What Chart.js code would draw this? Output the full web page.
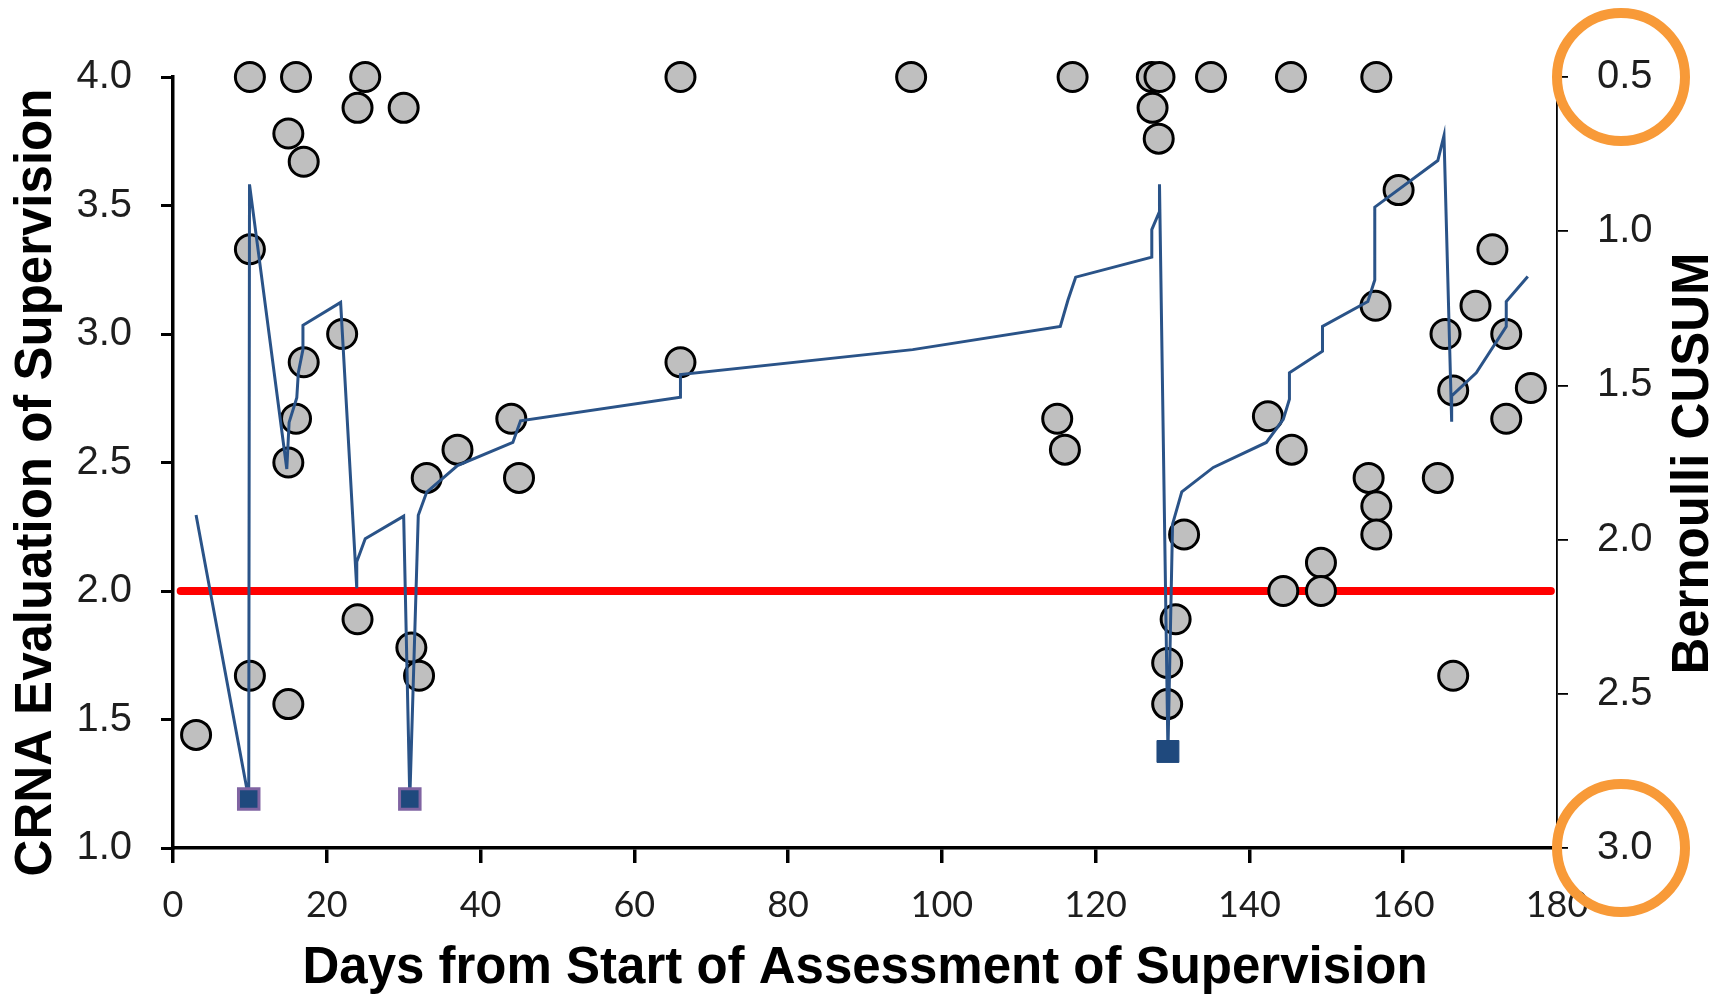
<!DOCTYPE html>
<html>
<head>
<meta charset="utf-8">
<script src="https://cdn.jsdelivr.net/npm/chart.js@4.4.1/dist/chart.umd.min.js"></script>
<style>
  html, body { margin: 0; padding: 0; background: #ffffff; }
  #wrap { width: 1731px; height: 997px; }
</style>
</head>
<body>
<div id="wrap"><canvas id="chart" width="1731" height="997"></canvas></div>
<script>
// Individual CRNA supervision ratings: day of observation and score (1-4)
const ratingDays = [3, 10, 10, 10, 15, 15, 15, 16, 16, 17, 17, 22, 24, 24, 25, 30, 31, 32, 33, 37, 44, 45,
  66, 66, 96, 115, 116, 117, 127.3, 128.3, 127.4, 128.2, 129.3, 129.3, 130.4, 131.5, 135, 142.4, 144.4,
  145.4, 145.5, 149.3, 149.3, 155.5, 156.5, 156.4, 156.5, 156.5, 159.4, 164.5, 165.5, 166.5, 166.5,
  169.4, 171.6, 173.4, 173.4, 176.6];
const ratingValues = [1.44, 4.0, 3.33, 1.67, 3.78, 2.5, 1.56, 4.0, 2.67, 3.67, 2.89, 3.0, 3.88, 1.89, 4.0,
  3.88, 1.78, 1.67, 2.44, 2.55, 2.67, 2.44, 4.0, 2.89, 4.0, 2.67, 2.55, 4.0, 4.0, 4.0, 3.88, 3.76, 1.72,
  1.56, 1.89, 2.22, 4.0, 2.68, 2.0, 4.0, 2.55, 2.11, 2.0, 2.44, 4.0, 3.11, 2.33, 2.22, 3.56, 2.44, 3.0,
  2.78, 1.67, 3.11, 3.33, 3.0, 2.67, 2.79];

// Bernoulli CUSUM trace (right axis, reversed)
const cusumDays = [3, 9.85, 9.95, 14.8, 15.1, 16.1, 16.3, 16.9, 16.9, 21.8, 23.9, 23.9, 25.0, 30.0, 30.8,
  31.9, 33.0, 37.0, 44.2, 45.2, 66.0, 66.0, 96.2, 115.4, 116.4, 117.4, 127.3, 127.3, 128.3, 128.3, 129.4,
  130.0, 131.2, 135.3, 142.2, 144.4, 145.2, 145.2, 149.5, 149.5, 155.4, 156.3, 156.3, 164.5, 165.3, 166.3,
  166.3, 169.5, 173.4, 173.4, 176.2];
const cusumValues = [1.92, 2.841, 0.848, 1.771, 1.62, 1.54, 1.459, 1.384, 1.305, 1.231, 2.158, 2.072,
  1.997, 1.924, 2.841, 1.921, 1.846, 1.76, 1.685, 1.615, 1.538, 1.465, 1.384, 1.309, 1.223, 1.149, 1.084,
  0.995, 0.936, 0.848, 2.687, 1.95, 1.845, 1.766, 1.685, 1.61, 1.545, 1.459, 1.389, 1.309, 1.228, 1.158,
  0.922, 0.771, 0.690, 1.618, 1.534, 1.459, 1.309, 1.228, 1.147];
// Positions in the CUSUM trace where a signal was raised
const signalIndex = [1, 14, 30];
const outlinedSignals = [1, 14];

// Acceptable-performance threshold on the rating scale
const thresholdDays = [1, 179.2];
const thresholdLevel = 2.0;

// Axis ticks and titles
const dayTicks = [0, 20, 40, 60, 80, 100, 120, 140, 160, 180];
const ratingTicks = [1.0, 1.5, 2.0, 2.5, 3.0, 3.5, 4.0];
const cusumTicks = [0.5, 1.0, 1.5, 2.0, 2.5, 3.0];
const circledCusumTicks = [0.5, 3.0];
const xTitle = 'Days from Start of Assessment of Supervision';
const leftTitle = 'CRNA Evaluation of Supervision';
const rightTitle = 'Bernoulli CUSUM';

const W = 1731, H = 997;
const AREA = { left: 173, right: 1557, top: 77, bottom: 848 };
const ARIAL = '"Liberation Sans", Arial, sans-serif';
const TITLE_SIZE = 51;

const ratingPoints = ratingDays.map((d, i) => ({ x: d, y: ratingValues[i] }));
const cusumPoints = cusumDays.map((d, i) => ({ x: d, y: cusumValues[i] }));
const thresholdPoints = thresholdDays.map(d => ({ x: d, y: thresholdLevel }));

const decorations = {
  id: 'decorations',
  beforeDraw(chart) {
    const { ctx } = chart;
    ctx.save();
    ctx.fillStyle = '#ffffff';
    ctx.fillRect(0, 0, chart.width, chart.height);
    ctx.restore();
  },
  afterDraw(chart) {
    const { ctx, chartArea, scales } = chart;
    ctx.save();
    ctx.fillStyle = '#000000';
    ctx.font = 'bold ' + TITLE_SIZE + 'px ' + ARIAL;
    ctx.textAlign = 'center';
    ctx.textBaseline = 'middle';
    const midY = (chartArea.top + chartArea.bottom) / 2;
    // vertical axis titles, both reading bottom-to-top
    ctx.save();
    ctx.translate(37, midY + 20);
    ctx.rotate(-Math.PI / 2);
    ctx.fillText(leftTitle, 0, 0);
    ctx.restore();
    ctx.save();
    ctx.translate(W - 37, midY + 1);
    ctx.rotate(-Math.PI / 2);
    ctx.fillText(rightTitle, 0, 0);
    ctx.restore();
    // orange rings around the end values of the CUSUM axis
    ctx.strokeStyle = '#F89A38';
    ctx.lineWidth = 10;
    circledCusumTicks.forEach(v => {
      const y = scales.y2.getPixelForValue(v);
      ctx.beginPath();
      ctx.arc(chartArea.right + 64, y, 64, 0, Math.PI * 2);
      ctx.stroke();
    });
    ctx.restore();
  }
};

new Chart(document.getElementById('chart'), {
  type: 'scatter',
  data: {
    datasets: [
      {
        type: 'line',
        label: rightTitle,
        data: cusumPoints,
        yAxisID: 'y2',
        borderColor: '#2A5388',
        borderWidth: 3,
        tension: 0,
        fill: false,
        clip: false,
        order: 0,
        pointStyle: 'rect',
        pointRadius: c => signalIndex.includes(c.dataIndex) ? (outlinedSignals.includes(c.dataIndex) ? 14.5 : 15.5) : 0,
        pointBackgroundColor: '#1F497D',
        pointBorderColor: c => outlinedSignals.includes(c.dataIndex) ? '#8064A2' : '#1F497D',
        pointBorderWidth: c => outlinedSignals.includes(c.dataIndex) ? 3 : 1
      },
      {
        label: leftTitle,
        data: ratingPoints,
        yAxisID: 'y',
        pointRadius: 14.5,
        pointBackgroundColor: '#BFBFBF',
        pointBorderColor: '#000000',
        pointBorderWidth: 3,
        clip: false,
        order: 1
      },
      {
        type: 'line',
        label: 'Threshold',
        data: thresholdPoints,
        yAxisID: 'y',
        borderColor: '#FF0000',
        borderWidth: 8,
        borderCapStyle: 'round',
        pointRadius: 0,
        clip: false,
        order: 2
      }
    ]
  },
  options: {
    responsive: false,
    devicePixelRatio: 1,
    animation: false,
    events: [],
    layout: { padding: { top: AREA.top, left: 0, right: 0, bottom: 0 } },
    plugins: { legend: { display: false }, tooltip: { enabled: false } },
    scales: {
      x: {
        type: 'linear',
        position: 'bottom',
        min: 0,
        max: 180,
        afterBuildTicks: s => { s.ticks = dayTicks.map(v => ({ value: v })); },
        afterFit: s => { s.height = H - AREA.bottom; },
        ticks: {
          autoSkip: false,
          maxRotation: 0,
          padding: 21,
          color: '#1e1e1e',
          font: { family: 'Lato', size: 36 }
        },
        grid: { drawOnChartArea: false, drawTicks: true, tickLength: 15, tickColor: '#000', tickWidth: 3.5, color: '#000', lineWidth: 3.5 },
        border: { display: true, color: '#000', width: 3.5 },
        title: {
          display: true,
          text: xTitle,
          color: '#000',
          font: { family: '"Liberation Sans", Arial, sans-serif', size: TITLE_SIZE, weight: 'bold' },
          padding: { top: 0, bottom: -3 }
        }
      },
      y: {
        type: 'linear',
        position: 'left',
        min: 1,
        max: 4,
        afterBuildTicks: s => { s.ticks = ratingTicks.map(v => ({ value: v })); },
        afterFit: s => { s.width = AREA.left; },
        ticks: {
          padding: 29,
          color: '#1e1e1e',
          font: { family: '"Liberation Sans", Arial, sans-serif', size: 40 },
          callback: v => Number(v).toFixed(1)
        },
        grid: { drawOnChartArea: false, drawTicks: true, tickLength: 12, tickColor: '#000', tickWidth: 3, color: '#000', lineWidth: 3 },
        border: { display: true, color: '#000', width: 3.5 }
      },
      y2: {
        type: 'linear',
        position: 'right',
        min: 0.5,
        max: 3.0,
        reverse: true,
        afterBuildTicks: s => { s.ticks = cusumTicks.map(v => ({ value: v })); },
        afterFit: s => { s.width = W - AREA.right; },
        ticks: {
          padding: 29,
          color: '#1e1e1e',
          font: { family: '"Liberation Sans", Arial, sans-serif', size: 40 },
          callback: v => Number(v).toFixed(1)
        },
        grid: { drawOnChartArea: false, drawTicks: true, tickLength: 11, tickColor: '#000', tickWidth: 1.8, color: '#000', lineWidth: 1.8 },
        border: { display: true, color: '#000', width: 1.8 }
      }
    }
  },
  plugins: [decorations]
});
</script>
</body>
</html>
